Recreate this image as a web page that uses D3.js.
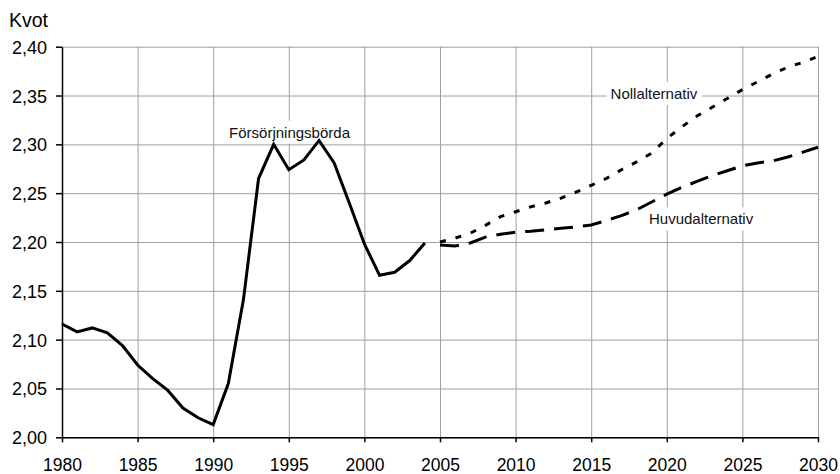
<!DOCTYPE html>
<html>
<head>
<meta charset="utf-8">
<style>
  body { margin: 0; background: #fff; }
  svg { display: block; font-family: "Liberation Sans", Arial, sans-serif; }
  .grid line { stroke: #a0a0a0; stroke-width: 1; }
  .grid path { display: none; }
  .axis path, .axis line { stroke: #000; stroke-width: 1.5; }
  .axis text { font-family: "Liberation Sans", Arial, sans-serif; fill: #000; }
  .xaxis text { font-size: 17.5px; }
  .yaxis text { font-size: 18px; }
</style>
</head>
<body>
<svg id="plot"></svg>
<script src="https://cdn.jsdelivr.net/npm/d3@7"></script>
<script>

// historical series (Försörjningsbörda)
var histYears = [1980,1981,1982,1983,1984,1985,1986,1987,1988,1989,1990,1991,1992,
                 1993,1994,1995,1996,1997,1998,1999,2000,2001,2002,2003,2004];
var histValues = [2.116,2.108,2.112,2.107,2.094,2.074,2.060,2.048,2.030,2.020,2.013,2.055,2.141,
                  2.265,2.300,2.274,2.284,2.304,2.281,2.240,2.198,2.166,2.169,2.181,2.199];

// projections
var projYears = [2005,2006,2007,2008,2009,2010,2011,2012,2013,2014,2015,2016,2017,
                 2018,2019,2020,2021,2022,2023,2024,2025,2026,2027,2028,2029,2030];
var huvudValues = [2.197,2.196,2.199,2.205,2.208,2.210,2.211,2.2125,2.214,2.2155,2.2175,2.222,2.227,
                   2.233,2.241,2.249,2.256,2.262,2.268,2.273,2.278,2.281,2.283,2.287,2.292,2.297];
var nollValues = [2.200,2.204,2.209,2.217,2.226,2.231,2.236,2.240,2.245,2.251,2.258,2.265,2.274,
                  2.282,2.291,2.306,2.318,2.329,2.338,2.347,2.356,2.364,2.372,2.379,2.384,2.390];

var xTicks = [1980,1985,1990,1995,2000,2005,2010,2015,2020,2025,2030];
var yTicks = [2.00,2.05,2.10,2.15,2.20,2.25,2.30,2.35,2.40];

var screen = {width:840, height:474};
var margins = {top:46.7, left:62, right:22, bottom:36.7};
var graph = {
    width: screen.width - margins.left - margins.right,
    height: screen.height - margins.top - margins.bottom
};

var svg = d3.select("#plot")
    .attr("width", screen.width)
    .attr("height", screen.height);

var g = svg.append("g")
    .attr("transform", "translate(" + margins.left + "," + margins.top + ")");

var xScale = d3.scaleLinear().domain([1980,2030]).range([0, graph.width]);
var yScale = d3.scaleLinear().domain([2.00,2.40]).range([graph.height, 0]);

var fmt = function(d) { return d3.format(".2f")(d).replace(".", ","); };

// gridlines
g.append("g")
    .attr("class", "grid")
    .attr("transform", "translate(0," + graph.height + ")")
    .call(d3.axisBottom(xScale).tickValues(xTicks).tickSize(-graph.height).tickFormat(""));

g.append("g")
    .attr("class", "grid")
    .call(d3.axisLeft(yScale).tickValues(yTicks).tickSize(-graph.width).tickFormat(""));

// labels with white background
var labels = [
    {text:"Försörjningsbörda", year:1995.05, value:2.3069, anchor:"middle"},
    {text:"Nollalternativ", year:2016.28, value:2.3464, anchor:"start"},
    {text:"Huvudalternativ", year:2018.82, value:2.218, anchor:"start"}
];

labels.forEach(function(l) {
    var lg = g.append("g");
    var t = lg.append("text")
        .attr("x", xScale(l.year))
        .attr("y", yScale(l.value))
        .attr("text-anchor", l.anchor)
        .attr("font-size", 15)
        .attr("fill", "#111")
        .text(l.text);
    var b = t.node().getBBox();
    lg.insert("rect", "text")
        .attr("x", b.x - 4)
        .attr("y", b.y - 3)
        .attr("width", b.width + 8)
        .attr("height", b.height + 6)
        .attr("fill", "#fff");
});

// lines
var line = d3.line()
    .x(function(d) { return xScale(d[0]); })
    .y(function(d) { return yScale(d[1]); });

g.append("path")
    .datum(d3.zip(histYears, histValues))
    .attr("d", line)
    .attr("fill", "none")
    .attr("stroke", "#000")
    .attr("stroke-width", 3)
    .attr("stroke-linejoin", "miter");

g.append("path")
    .datum(d3.zip(projYears, huvudValues))
    .attr("d", line)
    .attr("fill", "none")
    .attr("stroke", "#000")
    .attr("stroke-width", 3)
    .attr("stroke-dasharray", "19,10");

g.append("path")
    .datum(d3.zip(projYears, nollValues))
    .attr("d", line)
    .attr("fill", "none")
    .attr("stroke", "#000")
    .attr("stroke-width", 3)
    .attr("stroke-dasharray", "6,10");

// axes
g.append("g")
    .attr("class", "axis xaxis")
    .attr("transform", "translate(0," + graph.height + ")")
    .call(d3.axisBottom(xScale).tickValues(xTicks).tickSize(5).tickSizeOuter(0)
        .tickPadding(16.5).tickFormat(d3.format("d")));

g.append("g")
    .attr("class", "axis yaxis")
    .call(d3.axisLeft(yScale).tickValues(yTicks).tickSize(6).tickSizeOuter(0)
        .tickPadding(9).tickFormat(fmt))
    .selectAll("text")
    .attr("dy", "0.36em");

svg.append("text")
    .attr("x", 9)
    .attr("y", 26.7)
    .attr("font-size", 19.5)
    .attr("fill", "#000")
    .text("Kvot");

</script>
</body>
</html>
